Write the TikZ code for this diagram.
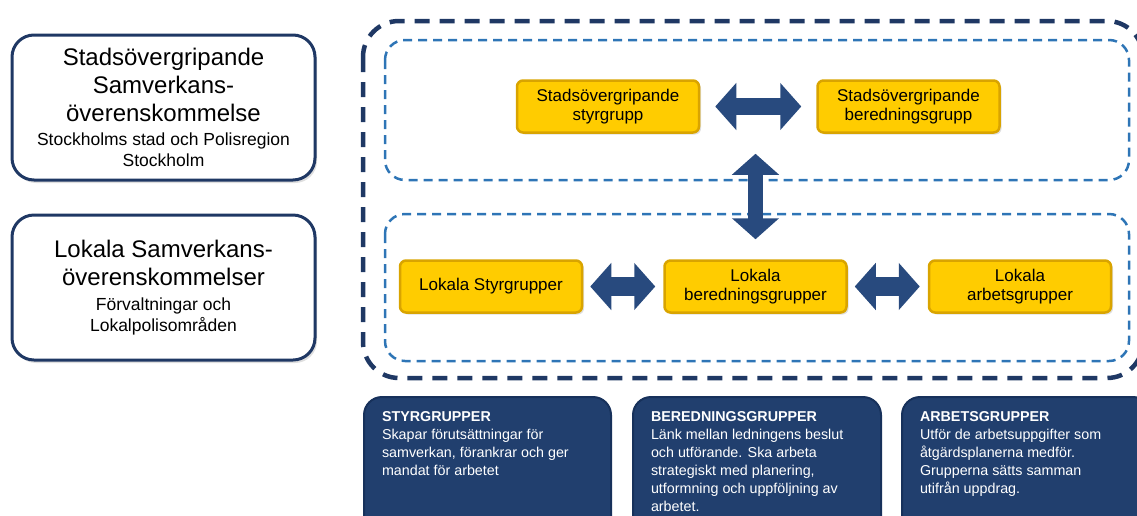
\documentclass[tikz,border=0pt]{standalone}
\usepackage{fontspec}
\setmainfont{Liberation Sans}
\usetikzlibrary{arrows.meta,positioning,calc,shadows}

\definecolor{navy}{HTML}{1F3864}
\definecolor{dashblue}{HTML}{2E75B6}
\definecolor{yfill}{HTML}{FFCC00}
\definecolor{yedge}{HTML}{D9A400}
\definecolor{infofill}{HTML}{213F6E}
\definecolor{infoedge}{HTML}{17315B}
\definecolor{arrowblue}{HTML}{284A7E}

\begin{document}
\begin{tikzpicture}[x=1pt,y=-1pt,node distance=80pt]
      \tikzstyle{agree}=[draw=navy,line width=3pt,rounded corners=22pt,fill=white,minimum width=303pt,minimum height=145pt,drop shadow={opacity=0.25,shadow xshift=2pt,shadow yshift=-3pt}]
      \tikzstyle{grp}=[draw=yedge,line width=2.5pt,fill=yfill,rounded corners=6pt,minimum width=182pt,minimum height=52pt,align=center,font=\fontsize{17}{19.5}\selectfont,drop shadow={opacity=0.25,shadow xshift=2pt,shadow yshift=-2pt}]
      \tikzstyle{info}=[draw=infoedge,line width=2pt,fill=infofill,rounded corners=18pt,anchor=north west,inner xsep=18pt,inner ysep=15pt,text=white,font=\fontsize{14.3}{18}\selectfont]
      \tikzstyle{fat}=[draw=arrowblue,line width=17pt,{Triangle[length=21pt,width=46pt]}-{Triangle[length=21pt,width=46pt]}]
      \tikzstyle{ring}=[rounded corners=20pt,draw=dashblue,line width=2.5pt,dash pattern=on 9pt off 6pt]
      \useasboundingbox (0,0) rectangle (1137,515);
      \clip (0,0) rectangle (1137,515);
      % agreements
      \node[agree] (city) at (163.5,107.5) {\parbox{290pt}{\centering\fontsize{24}{28}\selectfont Stadsövergripande\\Samverkans-\\överenskommelse\par\vspace{3pt}\fontsize{17.5}{21}\selectfont Stockholms stad och Polisregion\\Stockholm\par}};
      \node[agree] (local) at (163.5,287.5) {\parbox{290pt}{\centering\fontsize{24}{28}\selectfont Lokala Samverkans-\\överenskommelser\par\vspace{4pt}\fontsize{17.5}{21}\selectfont Förvaltningar och\\Lokalpolisområden\par}};
      % containers
      \draw[navy,line width=4.5pt,rounded corners=36pt,dash pattern=on 15pt off 10pt] (363,21) rectangle (1143,378);
      \draw[ring] (385,40) rectangle (1129,180);
      \draw[ring] (385,214) rectangle (1129,361);
      % groups
      \node[grp] (ssg) at (608,106.5) {Stadsövergripande\\styrgrupp};
      \node[grp,right=116pt of ssg] (sbg) {Stadsövergripande\\beredningsgrupp};
      \node[grp] (lbg) at (755.5,286.5) {Lokala\\beredningsgrupper};
      \node[grp,left=of lbg] (lsg) {Lokala Styrgrupper};
      \node[grp,right=of lbg] (lag) {Lokala\\arbetsgrupper};
      \coordinate (upper) at (lbg.north |- ssg.south);
      \draw[fat,shorten <=15pt,shorten >=15pt] (ssg) -- (sbg);
      \draw[fat,line width=15pt,shorten <=20pt,shorten >=20pt] (lbg.north) -- (upper);
      \draw[fat,line width=19pt,shorten <=7pt,shorten >=8pt] (lsg) -- (lbg);
      \draw[fat,line width=19pt,shorten <=7pt,shorten >=8pt] (lbg) -- (lag);
      % descriptions
      \node[info] (styinfo) at (363,396) {\parbox[t][130pt][t]{211pt}{\raggedright\textbf{STYRGRUPPER}\\Skapar förutsättningar för\\samverkan, förankrar och ger\\mandat för arbetet}};
      \node[info] (berinfo) at (632,396) {\parbox[t][130pt][t]{212pt}{\raggedright\textbf{BEREDNINGSGRUPPER}\\Länk mellan ledningens beslut\\och utförande. Ska arbeta\\strategiskt med planering,\\utformning och uppföljning av\\arbetet.}};
      \node[info] (arbinfo) at (901,396) {\parbox[t][130pt][t]{213pt}{\raggedright\textbf{ARBETSGRUPPER}\\Utför de arbetsuppgifter som\\åtgärdsplanerna medför.\\Grupperna sätts samman\\utifrån uppdrag.}};
    \end{tikzpicture}
\end{document}
